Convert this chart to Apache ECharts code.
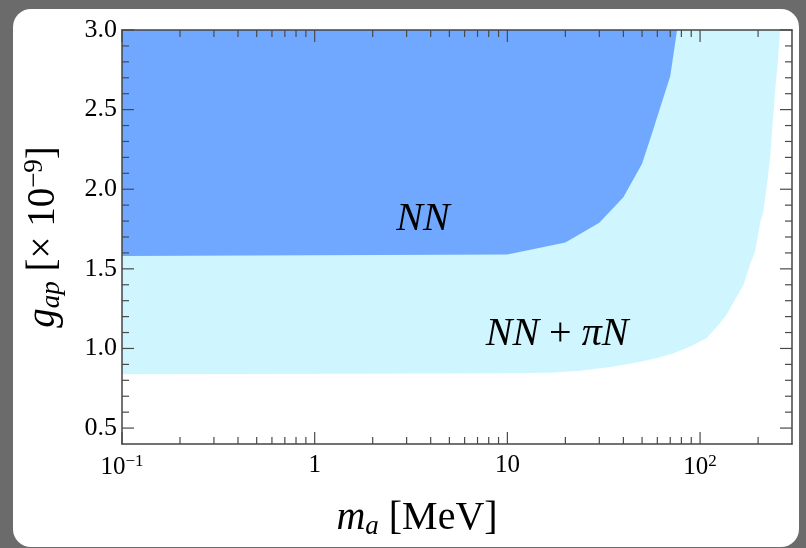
<!DOCTYPE html>
<html>
<head>
<meta charset="utf-8">
<script src="https://cdn.jsdelivr.net/npm/echarts@6/dist/echarts.min.js"></script>
<style>
html,body{margin:0;padding:0;background:#6b6b6b;}
#chart{width:806px;height:548px;}
</style>
</head>
<body>
<div id="chart"></div>
<script>
// ---- data ----
// NN bound: lower edge of excluded region (m_a in MeV, g_ap in 1e-9)
var nnMass = [0.1, 10, 20, 30, 40, 50, 57, 62, 70, 76];
var nnCoupling = [1.58, 1.59, 1.665, 1.79, 1.95, 2.16, 2.37, 2.51, 2.71, 3.0];
// NN + piN bound
var allMass = [0.1, 5, 16.6, 24, 35, 49, 60, 73, 90, 108, 125, 137, 155, 168, 183, 193, 205, 213, 222, 231, 245, 253, 260];
var allCoupling = [0.838, 0.842, 0.848, 0.86, 0.885, 0.917, 0.94, 0.97, 1.015, 1.064, 1.15, 1.21, 1.325, 1.399, 1.54, 1.608, 1.79, 1.859, 2.02, 2.194, 2.613, 2.79, 3.0];

var xRange = [0.1, 300];
var yRange = [0.4, 3.0];

var xMajorTicks = [0.1, 1, 10, 100];
var xTickLabels = ['{b|10}{s|\u22121}', '1', '10', '{b|10}{s|2}'];
var xMinorTicks = [0.2, 0.3, 0.4, 0.5, 0.6, 0.7, 0.8, 0.9, 2, 3, 4, 5, 6, 7, 8, 9, 20, 30, 40, 50, 60, 70, 80, 90, 200];
var yMajorTicks = [0.5, 1.0, 1.5, 2.0, 2.5, 3.0];
var yTickLabels = ['0.5', '1.0', '1.5', '2.0', '2.5', '3.0'];
var yMinorTicks = [0.6, 0.7, 0.8, 0.9, 1.1, 1.2, 1.3, 1.4, 1.6, 1.7, 1.8, 1.9, 2.1, 2.2, 2.3, 2.4, 2.6, 2.7, 2.8, 2.9];

var regionLabels = [
  {m: 3.65, g: 1.81, text: '{i|NN}'},
  {m: 18.1, g: 1.085, text: '{i|NN} {r|+} {i|\u03c0N}'}
];

// ---- chart ----
var SERIF = 'Liberation Serif';
var TICK_COLOR = '#4a4a4a';
var TEXT = '#000';
var chart = echarts.init(document.getElementById('chart'), null, {renderer: 'canvas'});

function regionSeries(xs, ys, color) {
  return {
    type: 'custom',
    coordinateSystem: 'cartesian2d',
    clip: true,
    silent: true,
    z: 1,
    data: [[xRange[0], yRange[1]]],
    renderItem: function (params, api) {
      var pts = [];
      for (var i = 0; i < xs.length; i++) pts.push(api.coord([xs[i], ys[i]]));
      pts.push(api.coord([xs[xs.length - 1], yRange[1]]));
      pts.push(api.coord([xs[0], yRange[1]]));
      return {type: 'polygon', shape: {points: pts}, style: {fill: color, stroke: null}};
    }
  };
}

function xTickSeries(vals, len) {
  return {
    type: 'custom', coordinateSystem: 'cartesian2d', silent: true, z: 6, clip: false,
    data: vals.map(function (v) { return [v, yRange[0]]; }),
    renderItem: function (params, api) {
      var v = api.value(0);
      var b = api.coord([v, yRange[0]]), t = api.coord([v, yRange[1]]);
      var st = {stroke: TICK_COLOR, lineWidth: 1.2};
      return {type: 'group', children: [
        {type: 'line', shape: {x1: b[0], y1: b[1], x2: b[0], y2: b[1] - len}, style: st},
        {type: 'line', shape: {x1: t[0], y1: t[1], x2: t[0], y2: t[1] + len}, style: st}
      ]};
    }
  };
}

function yTickSeries(vals, len) {
  return {
    type: 'custom', coordinateSystem: 'cartesian2d', silent: true, z: 6, clip: false,
    data: vals.map(function (v) { return [xRange[0], v]; }),
    renderItem: function (params, api) {
      var v = api.value(1);
      var l = api.coord([xRange[0], v]), r = api.coord([xRange[1], v]);
      var st = {stroke: TICK_COLOR, lineWidth: 1.2};
      return {type: 'group', children: [
        {type: 'line', shape: {x1: l[0], y1: l[1], x2: l[0] + len, y2: l[1]}, style: st},
        {type: 'line', shape: {x1: r[0], y1: r[1], x2: r[0] - len, y2: r[1]}, style: st}
      ]};
    }
  };
}

var labelSeries = {
  type: 'custom', coordinateSystem: 'cartesian2d', silent: true, z: 7, clip: false,
  data: regionLabels.map(function (d) { return [d.m, d.g]; }),
  renderItem: function (params, api) {
    var p = api.coord([api.value(0), api.value(1)]);
    return {
      type: 'text', x: p[0], y: p[1],
      style: {
        text: regionLabels[params.dataIndex].text,
        align: 'center', verticalAlign: 'middle',
        fill: TEXT,
        rich: {
          i: {fontFamily: SERIF, fontStyle: 'italic', fontSize: 40, fill: TEXT},
          r: {fontFamily: SERIF, fontSize: 40, fill: TEXT}
        },
        font: '40px "Liberation Serif"'
      }
    };
  }
};

function matchLabel(v, vals, labels) {
  for (var i = 0; i < vals.length; i++) {
    if (Math.abs(v - vals[i]) <= 1e-6 * Math.max(1, Math.abs(vals[i]))) return labels[i];
  }
  return '';
}

var axisLineStyle = {show: true, lineStyle: {color: '#444', width: 1.5}};

var option = {
  backgroundColor: '#6b6b6b',
  animation: false,
  graphic: {elements: [{
    type: 'rect', z: -10, silent: true,
    shape: {x: 13, y: 9, width: 786, height: 538, r: 18},
    style: {fill: '#ffffff'}
  }]},
  grid: {left: 122, right: 14, top: 30, bottom: 104, containLabel: false},
  xAxis: [{
    type: 'log', logBase: 10, min: xRange[0], max: xRange[1], position: 'bottom', z: 5,
    axisLine: axisLineStyle, axisTick: {show: false}, splitLine: {show: false}, minorTick: {show: false},
    axisLabel: {
      margin: 9, color: TEXT, fontFamily: SERIF, fontSize: 25,
      showMinLabel: true, showMaxLabel: false,
      formatter: function (v) { return matchLabel(v, xMajorTicks, xTickLabels); },
      rich: {
        b: {fontFamily: SERIF, fontSize: 25, color: TEXT},
        s: {fontFamily: SERIF, fontSize: 17, color: TEXT, padding: [0, 0, 12, 0]}
      }
    },
    name: '{i|m}{sub|a} {r|[MeV]}',
    nameLocation: 'middle', nameGap: 53,
    nameTextStyle: {
      fontFamily: SERIF, fontSize: 40, color: TEXT, padding: [0, 80, 0, 0],
      rich: {
        i: {fontFamily: SERIF, fontStyle: 'italic', fontSize: 40, color: TEXT},
        sub: {fontFamily: SERIF, fontStyle: 'italic', fontSize: 27, color: TEXT, padding: [16, 0, 0, 0]},
        r: {fontFamily: SERIF, fontSize: 40, color: TEXT}
      }
    }
  }, {
    type: 'log', logBase: 10, min: xRange[0], max: xRange[1], position: 'top', z: 5,
    axisLine: axisLineStyle, axisTick: {show: false}, axisLabel: {show: false}, splitLine: {show: false}
  }],
  yAxis: [{
    type: 'value', min: yRange[0], max: yRange[1], splitNumber: 5, position: 'left', z: 5,
    axisLine: axisLineStyle, axisTick: {show: false}, splitLine: {show: false},
    axisLabel: {
      margin: 5, color: TEXT, fontFamily: SERIF, fontSize: 26,
      formatter: function (v) { return matchLabel(v, yMajorTicks, yTickLabels); }
    },
    name: '{i|g}{sub|ap} {r|[\u00d7 10}{sup|\u22129}{r|]}',
    nameLocation: 'middle', nameGap: 56,
    nameTextStyle: {
      fontFamily: SERIF, fontSize: 39, color: TEXT,
      rich: {
        i: {fontFamily: SERIF, fontStyle: 'italic', fontSize: 39, color: TEXT},
        sub: {fontFamily: SERIF, fontStyle: 'italic', fontSize: 27, color: TEXT, padding: [16, 0, 0, 0]},
        r: {fontFamily: SERIF, fontSize: 39, color: TEXT},
        sup: {fontFamily: SERIF, fontSize: 27, color: TEXT, padding: [0, 0, 18, 0]}
      }
    }
  }, {
    type: 'value', min: yRange[0], max: yRange[1], position: 'right', z: 5,
    axisLine: axisLineStyle, axisTick: {show: false}, axisLabel: {show: false}, splitLine: {show: false}
  }],
  series: [
    regionSeries(allMass, allCoupling, '#cff6ff'),
    regionSeries(nnMass, nnCoupling, '#70a8ff'),
    xTickSeries(xMajorTicks, 12),
    xTickSeries(xMinorTicks, 7),
    yTickSeries(yMajorTicks, 12),
    yTickSeries(yMinorTicks, 7),
    labelSeries
  ]
};
chart.setOption(option);
</script>
</body>
</html>
